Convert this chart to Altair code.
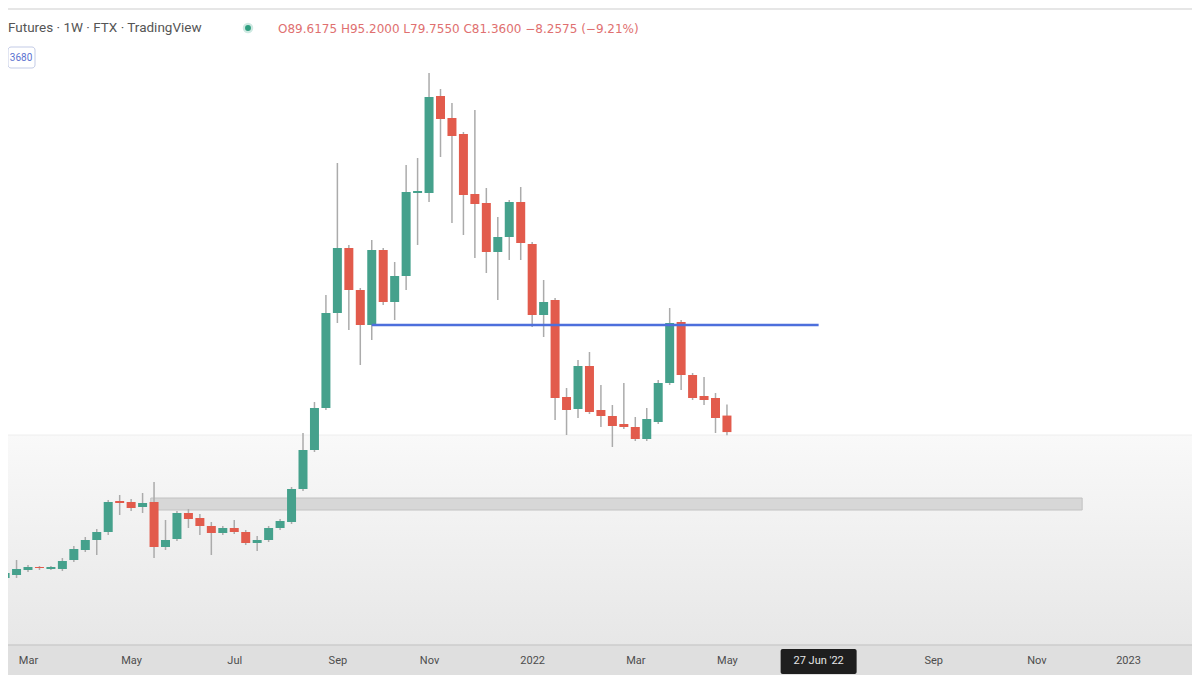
import altair as alt
import pandas as pd
import numpy as np

# ---- weekly candles (SOL-PERP, FTX, 1W), first bar week of 15 Feb 2021 ----
first_week = "2021-02-15"
opens = [8.4, 9.9, 12.4, 13.9, 12.9, 12.9, 17.4, 22.4, 27.4, 31.4,
         46.9, 46.4, 43.9, 46.4, 23.9, 27.9, 40.9, 38.4, 34.4, 30.9,
         33.4, 31.4, 25.9, 27.4, 33.4, 36.4, 52.9, 72.4, 93.4, 140.9,
         173.4, 152.4, 134.9, 172.4, 146.4, 159.4, 200.9, 200.9, 249.4, 238.4,
         230.4, 200.4, 195.9, 171.4, 178.9, 196.4, 175.4, 139.9, 147.4, 98.9,
         92.9, 114.4, 92.4, 89.4, 85.4, 83.9, 77.9, 86.4, 105.9, 136.4,
         109.9, 99.4, 98.4, 89.6175]
highs = [12.4, 17.4, 14.9, 14.4, 14.4, 18.4, 24.4, 28.9, 32.9, 47.4,
         49.9, 47.9, 50.9, 56.4, 37.4, 41.9, 42.9, 40.4, 36.4, 34.4,
         37.4, 32.4, 29.4, 34.4, 37.9, 53.9, 80.9, 96.4, 149.9, 215.9,
         174.9, 153.4, 177.4, 173.4, 166.4, 214.9, 218.4, 260.9, 252.9, 245.9,
         231.4, 242.4, 203.4, 188.9, 197.4, 203.9, 176.4, 157.4, 148.4, 103.4,
         117.4, 121.4, 104.9, 94.9, 105.9, 88.9, 93.4, 107.4, 143.4, 137.4,
         110.9, 108.9, 100.9, 95.2]
lows = [7.4, 8.4, 11.4, 12.4, 12.4, 11.9, 16.4, 21.4, 19.9, 29.9,
        39.9, 41.9, 40.9, 18.4, 22.4, 26.9, 33.4, 29.9, 19.9, 29.9,
        30.4, 24.9, 21.9, 26.4, 32.4, 35.4, 51.9, 71.4, 92.4, 135.9,
        132.4, 114.9, 127.4, 144.9, 137.4, 152.4, 174.9, 196.4, 218.9, 185.9,
        179.9, 168.4, 160.9, 147.4, 167.4, 167.4, 133.9, 128.9, 87.4, 79.9,
        88.4, 90.4, 83.9, 73.9, 82.9, 76.9, 76.9, 85.4, 104.9, 102.4,
        97.4, 94.9, 80.9, 79.755]
closes = [10.9, 12.9, 13.9, 13.4, 13.9, 16.9, 22.9, 27.4, 31.4, 46.4,
          45.9, 43.4, 45.9, 23.9, 27.4, 40.9, 37.9, 34.4, 30.9, 33.4,
          31.4, 25.9, 27.4, 33.4, 36.9, 52.9, 72.4, 93.4, 140.9, 173.4,
          152.4, 134.9, 172.4, 146.4, 159.4, 201.4, 201.9, 248.9, 237.9, 229.4,
          199.9, 195.4, 171.4, 178.9, 196.4, 175.9, 139.9, 146.4, 98.4, 92.4,
          114.4, 91.4, 89.4, 84.4, 83.9, 77.9, 87.9, 105.9, 135.9, 109.9,
          98.4, 97.4, 88.4, 81.36]

# drawn levels
support_zone = {"start": "2021-05-15", "end": "2022-12-05", "low": 42.4, "high": 48.4}
blue_level = {"start": "2021-09-27", "end": "2022-06-27", "price": 134.9}

# axis ticks (first weekly bar of each labelled month)
tick_dates = ["2021-03-01", "2021-05-03", "2021-07-05", "2021-09-06", "2021-11-01",
              "2022-01-03", "2022-03-07", "2022-05-02", "2022-09-05", "2022-11-07",
              "2023-01-02"]
crosshair_date = "2022-06-27"
crosshair_label = "27 Jun '22"
x_domain = ["2021-02-19T20:00:00", "2023-02-07T01:00:00"]
y_domain = [-25.1, 293.4]

header_text = "Futures · 1W · FTX · TradingView"
ohlc_text = "O89.6175 H95.2000 L79.7550 C81.3600 −8.2575 (−9.21%)"
badge_text = "3680"

GREEN = "#45a18c"
RED = "#e25b4c"
WICK = "#ababab"


def ms(s):
    return int(pd.Timestamp(s).value // 10**6)


dates = [pd.Timestamp(first_week) + pd.Timedelta(weeks=i) for i in range(len(opens))]
df = pd.DataFrame({
    "t": [ms(d) for d in dates],
    "open": opens, "high": highs, "low": lows, "close": closes,
})
df["dir"] = np.where(df["close"] >= df["open"], "up", "down")

W, H = 1184, 637

xscale = alt.Scale(type="utc", domain=[ms(x_domain[0]), ms(x_domain[1])], nice=False)
yscale = alt.Scale(domain=y_domain, nice=False, zero=False)

xaxis = alt.Axis(
    values=[ms(d) for d in tick_dates],
    labelExpr="utcFormat(datum.value, '%m') == '01' ? utcFormat(datum.value, '%Y') : utcFormat(datum.value, '%b')",
    title=None, grid=False, domain=False, ticks=False, labelPadding=9,
    labelFontSize=11, labelColor="#4d4d4d", labelFont="Roboto", zindex=1,
)

one = pd.DataFrame({"a": [0]})

# background gradient of the lower part + time-axis strip
lower_bg = alt.Chart(one).mark_rect(
    fill=alt.LinearGradient(
        gradient="linear",
        stops=[alt.GradientStop(color="#f9f9f9", offset=0),
               alt.GradientStop(color="#e7e7e7", offset=1)],
        x1=0, x2=0, y1=0, y2=1),
).encode(x=alt.value(0), x2=alt.value(W), y=alt.value(427), y2=alt.value(H))

boundary = alt.Chart(one).mark_rule(color="#eeeeee", strokeWidth=1).encode(
    x=alt.value(0), x2=alt.value(W), y=alt.value(427))

top_line = alt.Chart(one).mark_rule(color="#e6e6e6", strokeWidth=2).encode(
    x=alt.value(0), x2=alt.value(W), y=alt.value(1))

axis_strip = alt.Chart(one).mark_rect(fill="#dfdfdf").encode(
    x=alt.value(0), x2=alt.value(W), y=alt.value(H), y2=alt.value(H + 30))
axis_line = alt.Chart(one).mark_rule(color="#cccccc", strokeWidth=1.5).encode(
    x=alt.value(0), x2=alt.value(W), y=alt.value(H))

zone_df = pd.DataFrame({"t1": [ms(support_zone["start"])], "t2": [ms(support_zone["end"])],
                        "lo": [support_zone["low"]], "hi": [support_zone["high"]]})
zone = alt.Chart(zone_df).mark_rect(fill="#d7d7d7", stroke="#c2c2c2", strokeWidth=1).encode(
    x=alt.X("t1:T", scale=xscale, axis=xaxis), x2="t2:T",
    y=alt.Y("lo:Q", scale=yscale, axis=None), y2="hi:Q")

base = alt.Chart(df).encode(x=alt.X("t:T", scale=xscale, axis=xaxis))
wicks = base.mark_rule(color=WICK, strokeWidth=1.5).encode(
    y=alt.Y("low:Q", scale=yscale, axis=None), y2="high:Q")
bodies = base.mark_bar(size=9).encode(
    y=alt.Y("open:Q", scale=yscale, axis=None), y2="close:Q",
    color=alt.Color("dir:N", scale=alt.Scale(domain=["up", "down"], range=[GREEN, RED]), legend=None))

blue_df = pd.DataFrame({"t1": [ms(blue_level["start"])], "t2": [ms(blue_level["end"])],
                        "p": [blue_level["price"]]})
blue = alt.Chart(blue_df).mark_rule(color="#4d6fdc", strokeWidth=2.5).encode(
    x=alt.X("t1:T", scale=xscale), x2="t2:T", y=alt.Y("p:Q", scale=yscale))

# crosshair date label on the time axis
ch_df = pd.DataFrame({"t": [ms(crosshair_date)], "label": [crosshair_label]})
ch_box = alt.Chart(ch_df).mark_bar(size=76, color="#1e1e1e", cornerRadius=2).encode(
    x=alt.X("t:T", scale=xscale), y=alt.value(641), y2=alt.value(666))
ch_text = alt.Chart(ch_df).mark_text(color="#e6e6e6", fontSize=11, font="Roboto",
                                     baseline="middle").encode(
    x=alt.X("t:T", scale=xscale), y=alt.value(653), text="label:N")

# header
hdr = alt.Chart(one).mark_text(align="left", baseline="middle", fontSize=13.5,
                               font="Roboto", color="#555555").encode(
    x=alt.value(0), y=alt.value(20), text=alt.value(header_text))
dot_halo = alt.Chart(one).mark_point(filled=True, size=110, color="#cfe9e2", opacity=1).encode(
    x=alt.value(240), y=alt.value(20))
dot = alt.Chart(one).mark_point(filled=True, size=35, color="#2e9e7f", opacity=1).encode(
    x=alt.value(240), y=alt.value(20))
ohlc = alt.Chart(one).mark_text(align="left", baseline="middle", fontSize=12,
                                font="DejaVu Sans", color="#e07070").encode(
    x=alt.value(270), y=alt.value(21), text=alt.value(ohlc_text))
badge_box = alt.Chart(one).mark_rect(fill="white", stroke="#c3cbe6", strokeWidth=1,
                                     cornerRadius=3).encode(
    x=alt.value(0), x2=alt.value(27), y=alt.value(39), y2=alt.value(60))
badge = alt.Chart(one).mark_text(align="center", baseline="middle", fontSize=10,
                                 font="Roboto", color="#5b72d0").encode(
    x=alt.value(13), y=alt.value(50), text=alt.value(badge_text))

chart = alt.layer(
    lower_bg, boundary, top_line, axis_strip, axis_line, zone, wicks, bodies, blue,
    ch_box, ch_text, hdr, dot_halo, dot, ohlc, badge_box, badge,
).properties(
    width=W, height=H,
    autosize=alt.AutoSizeParams(type="none"),
    padding={"left": 0, "top": 0, "right": 0, "bottom": 30},
    background="white",
).configure_view(stroke=None)

chart.save("out.html", embed_options={"renderer": "svg", "actions": False})
